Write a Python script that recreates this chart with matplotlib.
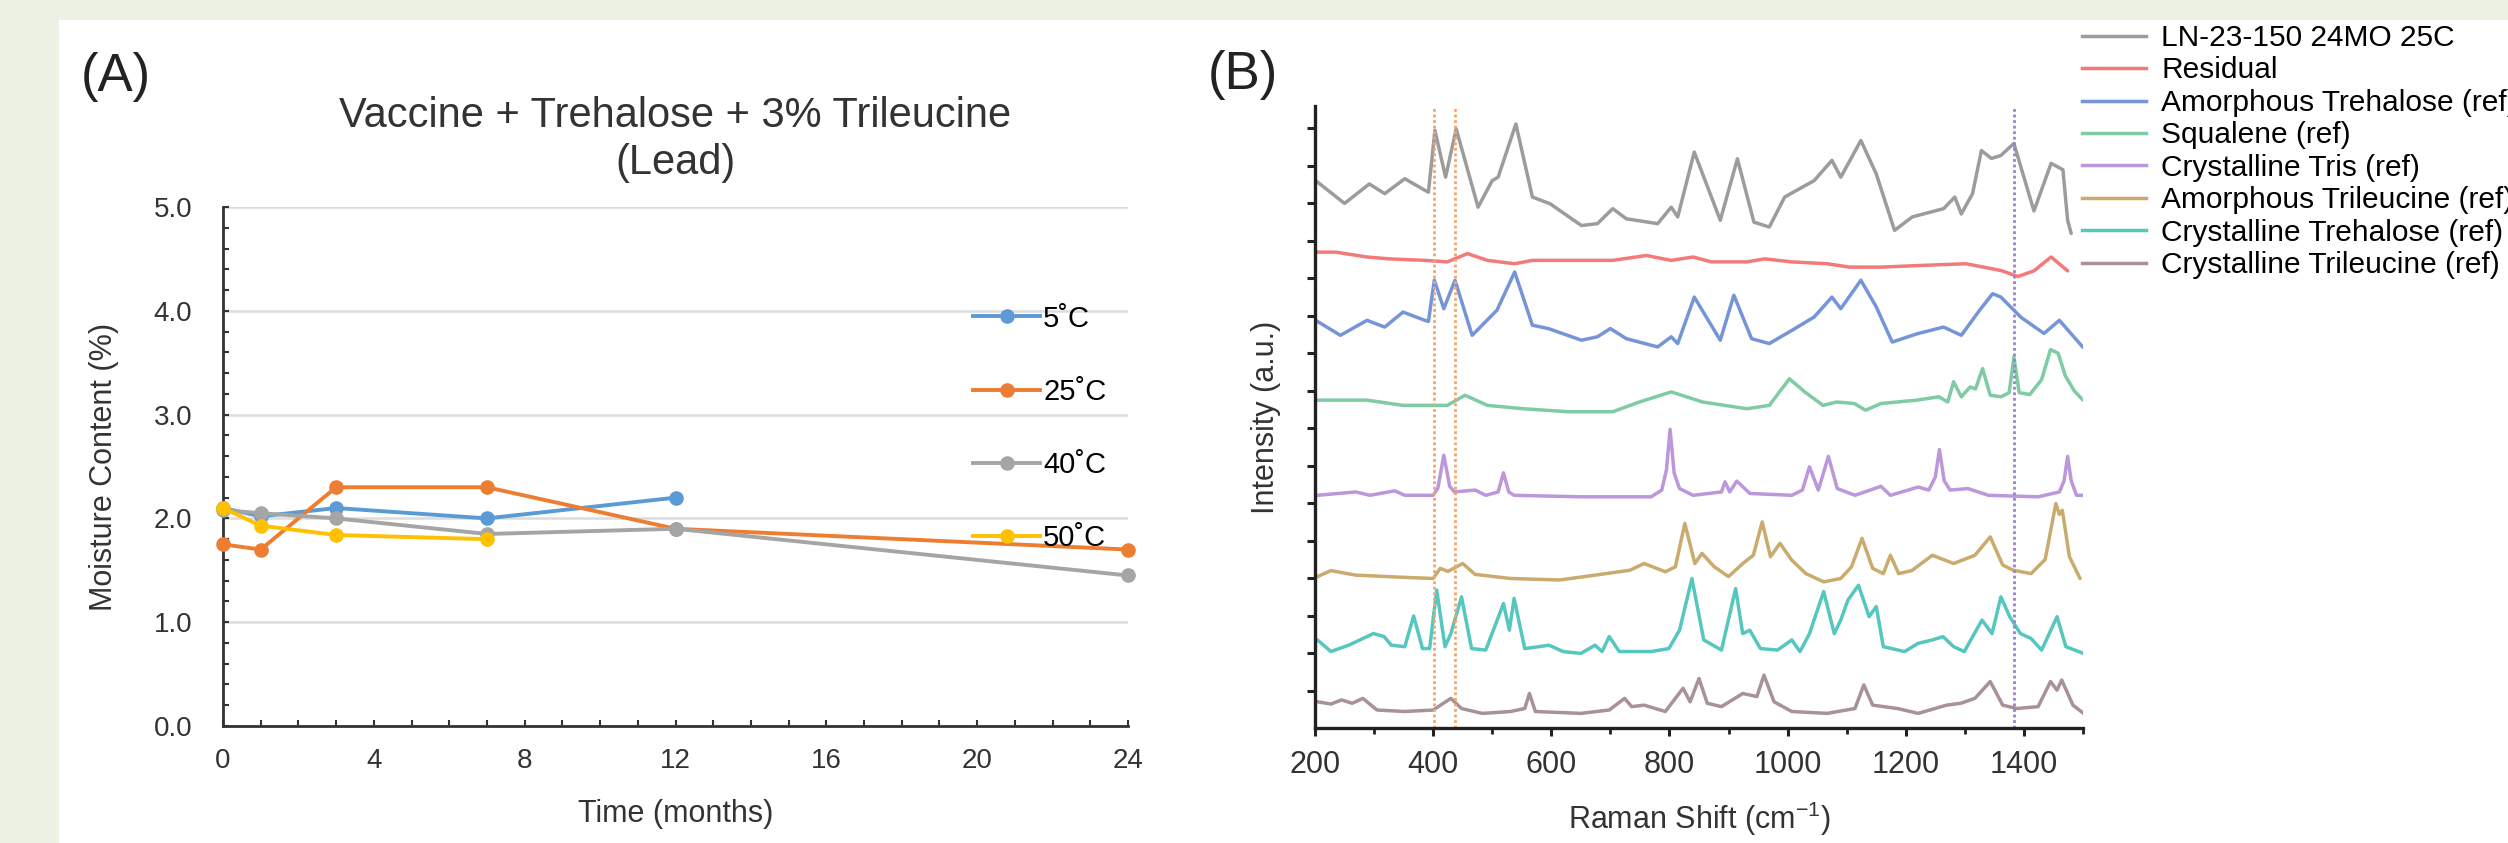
import numpy as np
import matplotlib.pyplot as plt
from matplotlib.patches import Rectangle
from matplotlib.lines import Line2D
from matplotlib.ticker import MultipleLocator, FormatStrFormatter
plt.rcParams['font.family'] = ['Liberation Sans', 'DejaVu Sans']
plt.rcParams['mathtext.default'] = 'regular'

# (A) moisture content vs time
t5 = [0, 1, 3, 7, 12]
m5 = [2.1, 2.02, 2.1, 2.0, 2.2]
t25 = [0, 1, 3, 7, 12, 24]
m25 = [1.75, 1.7, 2.3, 2.3, 1.9, 1.7]
t40 = [0, 1, 3, 7, 12, 24]
m40 = [2.08, 2.05, 2.0, 1.85, 1.9, 1.45]
t50 = [0, 1, 3, 7]
m50 = [2.1, 1.93, 1.84, 1.8]
temp_labels = ['5˚C', '25˚C', '40˚C', '50˚C']

# (B) Raman spectra (a.u.)
ln_x = [201, 250, 292, 318, 352, 386, 392, 403, 421, 439, 476, 500, 510, 540, 568, 598, 651, 678, 704, 727,
        780, 803, 814, 842, 886, 915, 943, 969, 995, 1045, 1075, 1090, 1124, 1150, 1181, 1211, 1264, 1283, 1294, 1313,
        1328, 1345, 1361, 1383, 1417, 1446, 1466, 1474, 1480]
ln_y = [14.61, 14.0, 14.52, 14.26, 14.66, 14.35, 14.3, 15.95, 14.7, 15.99, 13.9, 14.61, 14.7, 16.12, 14.17, 13.99, 13.41, 13.46, 13.86, 13.59,
        13.46, 13.9, 13.64, 15.37, 13.55, 15.19, 13.5, 13.37, 14.17, 14.61, 15.15, 14.7, 15.68, 14.79, 13.28, 13.64, 13.86, 14.17, 13.72, 14.26,
        15.41, 15.2, 15.28, 15.6, 13.8, 15.07, 14.9, 13.55, 13.2]
res_x = [201, 235, 288, 326, 386, 424, 458, 492, 538, 568, 629, 704, 761, 803, 840, 871, 931, 961, 1007, 1067,
         1105, 1158, 1234, 1302, 1361, 1390, 1417, 1446, 1474]
res_y = [12.70, 12.70, 12.57, 12.52, 12.48, 12.44, 12.66, 12.48, 12.39, 12.48, 12.48, 12.48, 12.61, 12.48, 12.57, 12.44, 12.44, 12.52, 12.44, 12.39,
         12.3, 12.3, 12.35, 12.39, 12.21, 12.05, 12.2, 12.57, 12.2]
atre_x = [201, 243, 288, 318, 349, 386, 392, 402, 418, 437, 466, 508, 538, 568, 595, 651, 678, 700, 727, 780,
          803, 814, 842, 886, 909, 939, 969, 1007, 1045, 1075, 1090, 1124, 1150, 1177, 1219, 1264, 1294, 1325, 1347, 1361,
          1395, 1434, 1460, 1500]
atre_y = [10.88, 10.48, 10.88, 10.7, 11.1, 10.88, 10.85, 11.95, 11.19, 11.95, 10.48, 11.15, 12.17, 10.75, 10.66, 10.35, 10.44, 10.66, 10.39, 10.17,
          10.44, 10.26, 11.5, 10.35, 11.55, 10.39, 10.26, 10.61, 10.97, 11.5, 11.19, 11.95, 11.24, 10.3, 10.52, 10.7, 10.48, 11.15, 11.59, 11.5,
          10.96, 10.53, 10.88, 10.16]
sq_x = [201, 288, 349, 394, 424, 454, 492, 553, 629, 704, 749, 803, 856, 931, 969, 1003, 1029, 1060, 1083, 1113,
        1132, 1158, 1219, 1256, 1271, 1281, 1294, 1309, 1318, 1330, 1343, 1361, 1375, 1383, 1392, 1410, 1430, 1445, 1458, 1470,
        1485, 1500]
sq_y = [8.75, 8.75, 8.61, 8.61, 8.61, 8.88, 8.61, 8.52, 8.44, 8.44, 8.7, 8.97, 8.7, 8.52, 8.61, 9.32, 8.97, 8.61, 8.7, 8.66,
        8.48, 8.66, 8.75, 8.84, 8.7, 9.24, 8.84, 9.1, 9.05, 9.59, 8.88, 8.84, 8.95, 9.9, 8.95, 8.9, 9.3, 10.1, 10.0, 9.4,
        9.0, 8.75]
tris_x = [204, 269, 293, 335, 352, 400, 408, 418, 428, 436, 471, 489, 510, 519, 528, 537, 650, 769, 787, 795,
          801, 808, 817, 840, 888, 894, 902, 914, 936, 1007, 1025, 1037, 1052, 1069, 1084, 1114, 1158, 1174, 1221, 1239,
          1250, 1257, 1265, 1275, 1305, 1340, 1424, 1460, 1468, 1474, 1480, 1489, 1501]
tris_y = [6.21, 6.3, 6.21, 6.33, 6.21, 6.21, 6.4, 7.28, 6.45, 6.3, 6.35, 6.21, 6.3, 6.81, 6.3, 6.21, 6.17, 6.17, 6.35, 6.9,
          7.97, 6.8, 6.39, 6.21, 6.3, 6.57, 6.3, 6.59, 6.26, 6.21, 6.35, 6.97, 6.35, 7.25, 6.39, 6.21, 6.45, 6.21, 6.43, 6.35,
          6.7, 7.43, 6.6, 6.35, 6.39, 6.21, 6.17, 6.3, 6.6, 7.25, 6.6, 6.21, 6.21]
atri_x = [204, 227, 269, 352, 400, 412, 425, 450, 471, 531, 614, 674, 733, 757, 793, 810, 826, 843, 855, 876,
          900, 924, 942, 957, 971, 987, 1007, 1031, 1061, 1090, 1108, 1126, 1144, 1162, 1174, 1188, 1210, 1245, 1281, 1317,
          1343, 1364, 1382, 1412, 1436, 1454, 1460, 1465, 1477, 1495]
atri_y = [4.04, 4.2, 4.08, 4.02, 3.99, 4.26, 4.18, 4.39, 4.1, 3.99, 3.95, 4.08, 4.21, 4.39, 4.17, 4.3, 5.46, 4.39, 4.66, 4.3,
          4.04, 4.39, 4.61, 5.5, 4.57, 4.93, 4.48, 4.12, 3.9, 3.99, 4.3, 5.06, 4.26, 4.12, 4.61, 4.12, 4.2, 4.61, 4.39, 4.61,
          5.1, 4.35, 4.21, 4.12, 4.5, 5.99, 5.7, 5.81, 4.57, 3.99]
ctre_x = [204, 227, 257, 299, 317, 329, 352, 367, 382, 394, 406, 420, 430, 448, 465, 489, 519, 529, 537, 555,
          579, 596, 620, 650, 674, 686, 698, 715, 769, 799, 817, 838, 858, 888, 912, 924, 936, 954, 983, 1007,
          1021, 1037, 1061, 1079, 1090, 1102, 1120, 1138, 1150, 1162, 1198, 1221, 1245, 1263, 1281, 1299, 1329, 1346, 1361, 1376,
          1394, 1412, 1430, 1456, 1471, 1501]
ctre_y = [2.35, 2.04, 2.21, 2.52, 2.44, 2.21, 2.17, 2.99, 2.12, 2.12, 3.68, 2.17, 2.52, 3.5, 2.12, 2.08, 3.32, 2.61, 3.46, 2.12,
          2.17, 2.21, 2.04, 1.99, 2.21, 2.04, 2.44, 2.04, 2.04, 2.12, 2.61, 3.99, 2.35, 2.08, 3.72, 2.52, 2.61, 2.12, 2.08, 2.35,
          2.04, 2.52, 3.64, 2.52, 2.88, 3.41, 3.81, 2.97, 3.24, 2.17, 2.04, 2.26, 2.35, 2.44, 2.17, 2.04, 2.88, 2.52, 3.5, 2.97,
          2.52, 2.39, 2.08, 2.97, 2.17, 1.99]
ctri_x = [204, 227, 245, 263, 281, 305, 352, 400, 430, 448, 483, 531, 555, 563, 573, 650, 698, 724, 736, 757,
          793, 823, 835, 850, 864, 888, 924, 948, 960, 977, 1007, 1067, 1114, 1129, 1144, 1186, 1221, 1269, 1293, 1317,
          1343, 1364, 1388, 1424, 1445, 1456, 1464, 1483, 1501]
ctri_y = [0.7, 0.64, 0.75, 0.66, 0.79, 0.48, 0.44, 0.48, 0.79, 0.52, 0.39, 0.44, 0.52, 0.92, 0.44, 0.39, 0.48, 0.79, 0.57, 0.61,
          0.44, 1.06, 0.7, 1.32, 0.66, 0.57, 0.92, 0.84, 1.41, 0.7, 0.44, 0.39, 0.52, 1.15, 0.61, 0.52, 0.39, 0.61, 0.66, 0.79,
          1.24, 0.61, 0.52, 0.57, 1.24, 1.01, 1.28, 0.61, 0.39]
spec_labels = ['LN-23-150 24MO 25C', 'Residual', 'Amorphous Trehalose (ref)', 'Squalene (ref)',
               'Crystalline Tris (ref)', 'Amorphous Trileucine (ref)', 'Crystalline Trehalose (ref)',
               'Crystalline Trileucine (ref)']
marker_lines = [402, 437, 1383]

fig = plt.figure(figsize=(25.08, 8.43), dpi=100, facecolor='#ecf2e3')
fig.patches.append(Rectangle((59/2508, 0), 1, 823/843, transform=fig.transFigure,
                             facecolor='white', edgecolor='none', zorder=-5))

# ---- panel A
ax = fig.add_axes([223/2508, 117/843, 905/2508, 519/843])
a_cols = ['#5b9bd5', '#ed7d31', '#a5a5a5', '#ffc000']
for tt, mm, c, lab in zip([t5, t25, t40, t50], [m5, m25, m40, m50], a_cols, temp_labels):
    ax.plot(tt, mm, color=c, lw=2.8, marker='o', ms=9.5, label=lab, clip_on=False, zorder=3)
ax.set_xlim(0, 24)
ax.set_ylim(0, 5)
ax.set_xticks(range(0, 25, 4))
ax.xaxis.set_minor_locator(MultipleLocator(1))
ax.set_yticks(np.arange(0, 5.01, 1))
ax.yaxis.set_minor_locator(MultipleLocator(0.2))
ax.yaxis.set_major_formatter(FormatStrFormatter('%.1f'))
ax.yaxis.grid(True, color='#dcdcdc', lw=1.8)
ax.set_axisbelow(True)
for s in ['top', 'right']:
    ax.spines[s].set_visible(False)
for s in ['left', 'bottom']:
    ax.spines[s].set_linewidth(2.0)
    ax.spines[s].set_color('#333333')
ax.tick_params(which='both', direction='in', length=4, width=1.5, color='#333333')
ax.tick_params(axis='x', labelsize=20, pad=16, labelcolor='#333333')
ax.tick_params(axis='y', labelsize=20, pad=22, labelcolor='#333333')
ax.set_xlabel('Time (months)', fontsize=22, labelpad=18, color='#333333')
ax.set_ylabel('Moisture Content (%)', fontsize=22, labelpad=25, color='#333333')
ax.set_title('Vaccine + Trehalose + 3% Trileucine\n(Lead)', fontsize=30, pad=24, color='#333333')
ax.legend(loc='upper left', bbox_to_anchor=(0.829, 0.812), frameon=False, fontsize=21,
          labelspacing=1.55, handlelength=2.3, handletextpad=0.1, borderpad=0, borderaxespad=0)

# ---- panel B
bx = fig.add_axes([1315/2508, 115/843, 768/2508, 622/843])
spec_x = [ln_x, res_x, atre_x, sq_x, tris_x, atri_x, ctre_x, ctri_x]
spec_y = [ln_y, res_y, atre_y, sq_y, tris_y, atri_y, ctre_y, ctri_y]
b_cols = ['#9c9c9c', '#f27a7a', '#7595d8', '#7ecba4', '#bc97db', '#caab6e', '#55c7be', '#a9919a']
for xs, ys, c in zip(spec_x, spec_y, b_cols):
    bx.plot(xs, ys, color=c, lw=2.5, solid_joinstyle='round', solid_capstyle='round')
for xv, c in zip(marker_lines, ['#f4a56a', '#f4a56a', '#9b7fd0']):
    bx.axvline(xv, color=c, lw=2.0, ls=(0, (1, 1)))
bx.set_xlim(200, 1500)
bx.set_ylim(0, 16.6)
bx.set_xticks(range(200, 1401, 200))
bx.xaxis.set_minor_locator(MultipleLocator(100))
bx.set_yticks(range(1, 17))
bx.set_yticklabels([])
for s in ['top', 'right']:
    bx.spines[s].set_visible(False)
for s in ['left', 'bottom']:
    bx.spines[s].set_linewidth(2.4)
    bx.spines[s].set_color('#222222')
bx.tick_params(which='major', direction='out', length=6, width=2.2, color='#222222')
bx.tick_params(which='minor', direction='out', length=4, width=2.0, color='#222222')
bx.tick_params(axis='x', labelsize=22, pad=10, labelcolor='#333333')
bx.set_xlabel('Raman Shift (cm$^{-1}$)', fontsize=22, labelpad=14, color='#333333')
bx.set_ylabel('Intensity (a.u.)', fontsize=22, labelpad=15, color='#333333')

handles = [Line2D([], [], color=c, lw=2.5) for c in b_cols]
fig.legend(handles, spec_labels, loc='upper left', bbox_to_anchor=(2082/2508, 1 - 24/843),
           frameon=False, fontsize=21.5, labelspacing=0.15, handlelength=2.15, handletextpad=0.5,
           borderpad=0, borderaxespad=0)

fig.text(116/2508, 1 - 77/843, '(A)', fontsize=38, ha='center', va='center', color='#222222')
fig.text(1243/2508, 1 - 75/843, '(B)', fontsize=38, ha='center', va='center', color='#222222')

fig.savefig('out.png', dpi=100, facecolor=fig.get_facecolor())
